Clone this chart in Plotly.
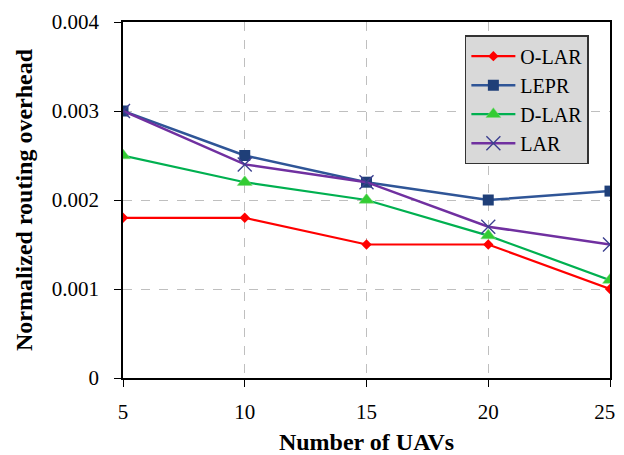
import plotly.graph_objects as go

uavs = [5, 10, 15, 20, 25]
x_tick_text = ["5", "10", "15", "20", "25\u00a0\u00a0"]
o_lar = [0.0018, 0.0018, 0.0015, 0.0015, 0.0010]
lepr = [0.0030, 0.0025, 0.0022, 0.0020, 0.0021]
d_lar = [0.0025, 0.0022, 0.0020, 0.0016, 0.0011]
lar = [0.0030, 0.0024, 0.0022, 0.0017, 0.0015]

y_ticks = [0, 0.001, 0.002, 0.003, 0.004]
y_tick_text = ["0", "0.001", "0.002", "0.003", "0.004"]

fig = go.Figure()
fig.add_trace(go.Scatter(x=uavs, y=o_lar, name="O-LAR", mode="lines+markers",
                         line=dict(color="#FF0000", width=2.2),
                         marker=dict(symbol="diamond", size=8, color="#FF0000")))
fig.add_trace(go.Scatter(x=uavs, y=lepr, name="LEPR", mode="lines+markers",
                         line=dict(color="#2F5597", width=2.5),
                         marker=dict(symbol="square", size=11, color="#1F3F78")))
fig.add_trace(go.Scatter(x=uavs, y=d_lar, name="D-LAR", mode="lines+markers",
                         line=dict(color="#00B050", width=2.2),
                         marker=dict(symbol="triangle-up", size=13, color="#33CC33",
                                     line=dict(color="#7FD87F", width=0.5))))
fig.add_trace(go.Scatter(x=uavs, y=lar, name="LAR", mode="lines+markers",
                         line=dict(color="#7030A0", width=2.5),
                         marker=dict(symbol="x-thin", size=14,
                                     line=dict(color="#3B3F8F", width=1.4))))

font_family = "Liberation Serif"
fig.update_layout(
    width=616, height=447,
    margin=dict(l=115, r=14, t=14, b=77, autoexpand=False),
    paper_bgcolor="white", plot_bgcolor="white",
    font=dict(family=font_family, size=21, color="black"),
    showlegend=True,
    legend=dict(x=0.702, y=0.963, xanchor="left", yanchor="top",
                bgcolor="#D9D9D9", bordercolor="#333333", borderwidth=1.5,
                font=dict(family=font_family, size=20, color="black"),
                tracegroupgap=0, itemwidth=44),
    xaxis=dict(range=[5, 25], tickvals=uavs, ticktext=x_tick_text,
               ticks="outside", ticklen=7,
               tickcolor="black", showline=True, linecolor="black", linewidth=1.5,
               mirror=True, showgrid=True, gridcolor="#BFBFBF", griddash="dash",
               gridwidth=1, zeroline=False, ticklabelstandoff=7, automargin=False,
               ticklabeloverflow="allow",
               tickfont=dict(family=font_family, size=21),
               title=dict(text="<b>Number of UAVs</b>", standoff=18,
                          font=dict(family=font_family, size=24))),
    yaxis=dict(range=[0, 0.004], tickvals=y_ticks, ticktext=y_tick_text,
               ticks="outside", ticklen=7, tickcolor="black", showline=True,
               linecolor="black", linewidth=1.5, mirror=True, showgrid=True,
               gridcolor="#BFBFBF", griddash="dash", gridwidth=1, zeroline=False,
               ticklabelstandoff=11, automargin=False,
               tickfont=dict(family=font_family, size=21),
               title=dict(text="<b>Normalized routing overhead</b>", standoff=12,
                          font=dict(family=font_family, size=24))),
)

fig.write_html("out.html")
